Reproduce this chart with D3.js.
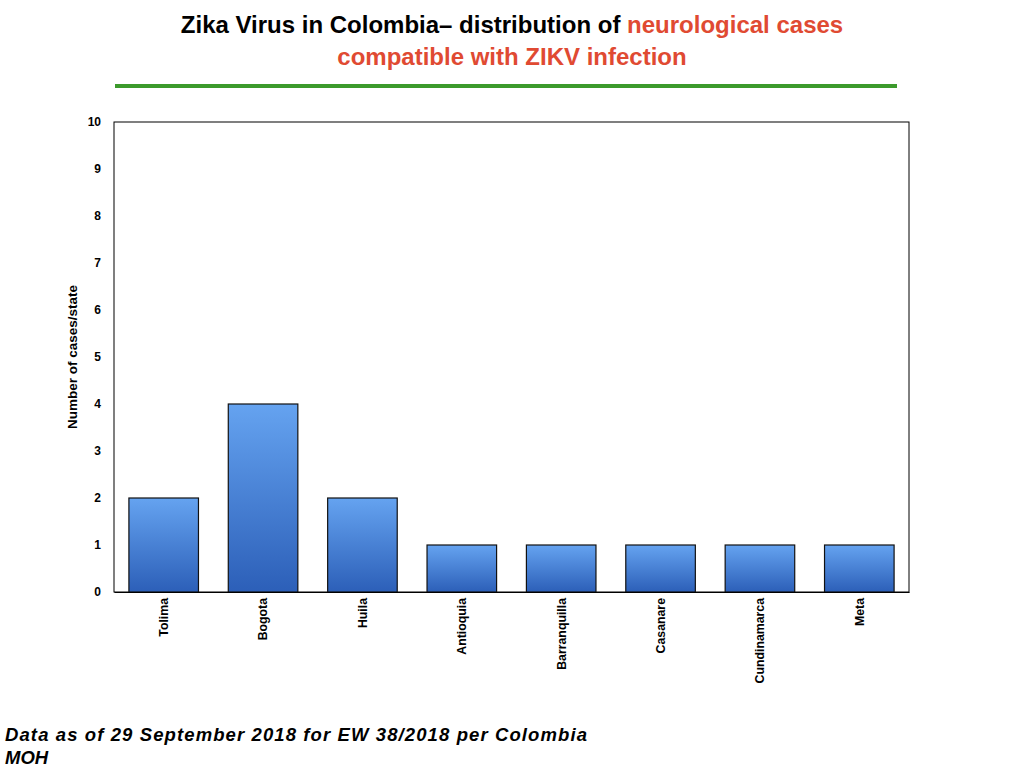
<!DOCTYPE html>
<html><head><meta charset="utf-8">
<script src="https://cdn.jsdelivr.net/npm/d3@7"></script>
<style>body{margin:0;background:#fff}svg{display:block}</style>
</head><body>
<svg id="c" width="1024" height="768"></svg>
<script>
const categories = ["Tolima","Bogota","Huila","Antioquia","Barranquilla","Casanare","Cundinamarca","Meta"];
const cases = [2,4,2,1,1,1,1,1];
const yTicks = [0,1,2,3,4,5,6,7,8,9,10];

const svg = d3.select("#c");
const font = "'Liberation Sans', Arial, Helvetica, sans-serif";
const m = {l:114, r:909, t:122, b:592};

const defs = svg.append("defs");
const g = defs.append("linearGradient").attr("id","bg").attr("x1",0).attr("y1",0).attr("x2",0).attr("y2",1);
g.append("stop").attr("offset","0%").attr("stop-color","#65a3f0");
g.append("stop").attr("offset","100%").attr("stop-color","#2c5fb8");

// title
const t1 = svg.append("text").attr("x",512).attr("y",33).attr("text-anchor","middle")
  .attr("font-family",font).attr("font-weight","bold").attr("font-size",24).attr("fill","#000");
t1.append("tspan").text("Zika Virus in Colombia\u2013  distribution of ");
t1.append("tspan").attr("fill","#e04a32").text("neurological cases");
svg.append("text").attr("x",512).attr("y",65).attr("text-anchor","middle")
  .attr("font-family",font).attr("font-weight","bold").attr("font-size",24).attr("fill","#e04a32")
  .text("compatible with ZIKV infection");
svg.append("line").attr("x1",115).attr("x2",897).attr("y1",86).attr("y2",86)
  .attr("stroke","#3c9a2c").attr("stroke-width",4);

const x = d3.scaleBand().domain(categories).range([m.l,m.r]).paddingInner(0.3).paddingOuter(0.15);
const y = d3.scaleLinear().domain([0,10]).range([m.b,m.t]);

// frame
svg.append("rect").attr("x",m.l).attr("y",m.t).attr("width",m.r-m.l).attr("height",m.b-m.t)
  .attr("fill","none").attr("stroke","#000").attr("stroke-width",1);

// bars
svg.selectAll("rect.bar").data(categories).enter().append("rect").attr("class","bar")
  .attr("x",d=>x(d)).attr("width",x.bandwidth())
  .attr("y",(d,i)=>y(cases[i])).attr("height",(d,i)=>y(0)-y(cases[i]))
  .attr("fill","url(#bg)").attr("stroke","#111").attr("stroke-width",1.2);

// y axis
const ya = svg.append("g").attr("transform",`translate(${m.l},0)`)
  .call(d3.axisLeft(y).tickValues(yTicks).tickSize(0).tickPadding(13).tickFormat(d3.format("d")));
ya.select(".domain").remove();
ya.selectAll("text").attr("font-family",font).attr("font-weight","bold").attr("font-size",12).attr("fill","#000");

// x axis
const xa = svg.append("g").attr("transform",`translate(0,${m.b})`)
  .call(d3.axisBottom(x).tickSize(0).tickPadding(0));
xa.select(".domain").attr("stroke","#000");
xa.selectAll("text").attr("font-family",font).attr("font-weight","bold").attr("font-size",12.3).attr("fill","#000")
  .attr("transform","rotate(-90)").attr("text-anchor","end").attr("dy","0.35em").attr("x",-6).attr("y",0);

// y label
svg.append("text").attr("transform","translate(77,357) rotate(-90)").attr("text-anchor","middle")
  .attr("font-family",font).attr("font-weight","bold").attr("font-size",13.5).text("Number of cases/state");

// footnote
const fn = svg.append("text").attr("font-family",font).attr("font-weight","bold").attr("font-style","italic")
  .attr("font-size",18.5).attr("fill","#000");
fn.append("tspan").attr("x",5).attr("y",741).attr("textLength",582).attr("lengthAdjust","spacing")
  .text("Data as of 29 September 2018 for EW 38/2018 per Colombia");
fn.append("tspan").attr("x",5).attr("y",764).text("MOH");
</script>
</body></html>
